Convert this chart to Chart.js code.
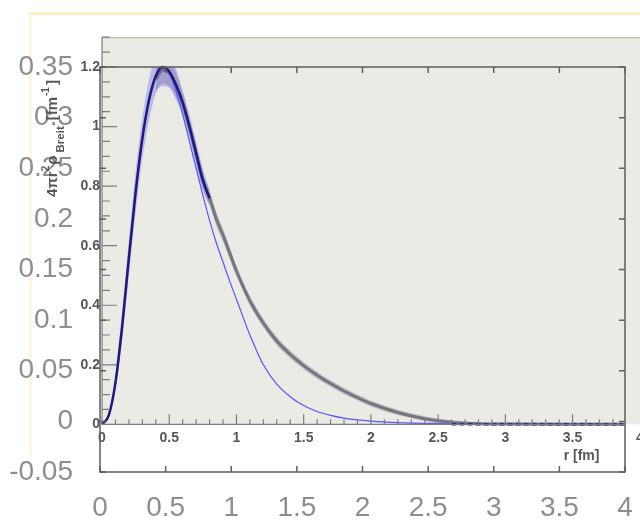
<!DOCTYPE html>
<html>
<head>
<meta charset="utf-8">
<script src="https://cdn.jsdelivr.net/npm/chart.js@4.4.1/dist/chart.umd.min.js"></script>
<style>
  html, body { margin: 0; padding: 0; background: #fff; }
</style>
</head>
<body>
<canvas id="c" width="640" height="522"></canvas>
<script>
// r grid (fm) shared by all the curves
const R = [0, 0.05, 0.1, 0.15, 0.2, 0.25, 0.3, 0.35, 0.4, 0.45,
           0.5, 0.55, 0.6, 0.65, 0.7, 0.75, 0.8, 0.85, 0.9, 0.95,
           1.0, 1.1, 1.2, 1.3, 1.4, 1.5, 1.6, 1.7, 1.8, 1.9,
           2.0, 2.2, 2.4, 2.6, 2.8, 3.0, 3.5, 3.88];

// thin blue curve
const blueThin = [0, 0.03, 0.14, 0.33, 0.56, 0.78, 0.96, 1.09, 1.17, 1.2,
                  1.18, 1.12, 1.04, 0.95, 0.86, 0.77, 0.685, 0.61, 0.545, 0.48,
                  0.42, 0.30, 0.20, 0.135, 0.093, 0.063, 0.043, 0.03, 0.021, 0.015,
                  0.011, 0.006, 0.003, 0.002, 0.001, 0.001, 0, 0];

// dark navy curve (with purple band near the peak)
const navy = [0, 0.03, 0.14, 0.33, 0.56, 0.78, 0.96, 1.09, 1.17, 1.2,
              1.185, 1.14, 1.08, 1.0, 0.91, 0.82, 0.76,
              null, null, null, null, null, null, null, null, null, null, null, null, null, null, null, null,
              0, 0, 0, 0, 0];
const purpleUpper = [null, null, 0.17, 0.38, 0.62, 0.85, 1.03, 1.16, 1.235, 1.255,
                     1.245, 1.195, 1.12, 1.04, 0.95, 0.86, 0.785,
                     ...Array(21).fill(null)];
const purpleLower = [null, null, 0.115, 0.285, 0.50, 0.71, 0.89, 1.02, 1.11, 1.135,
                     1.13, 1.09, 1.04, 0.96, 0.87, 0.785, 0.735,
                     ...Array(21).fill(null)];

// thick grey curve and its half band width
const grayLine = [null, null, null, null, null, null, null, null, 1.16, 1.19,
                  1.18, 1.14, 1.08, 1.0, 0.91, 0.82, 0.76, 0.69, 0.635, 0.575,
                  0.515, 0.415, 0.34, 0.28, 0.235, 0.197, 0.165, 0.137, 0.112, 0.09,
                  0.07, 0.04, 0.019, 0.007, 0.002, 0.001, 0, 0];
const grayErr = [null, null, null, null, null, null, null, null, 0.04, 0.045,
                 0.045, 0.04, 0.035, 0.03, 0.03, 0.028, 0.026, 0.024, 0.022, 0.02,
                 0.018, 0.016, 0.015, 0.014, 0.013, 0.012, 0.012, 0.011, 0.011, 0.01,
                 0.01, 0.009, 0.008, 0.007, 0.006, 0.006, 0.006, 0.006];

// outer axes (big grey labels)
const outerXTicks = [0, 0.5, 1, 1.5, 2, 2.5, 3, 3.5, 4];
const outerXLabels = ['0', '0.5', '1', '1.5', '2', '2.5', '3', '3.5', '4'];
const outerYTicks = [-0.05, 0, 0.05, 0.1, 0.15, 0.2, 0.25, 0.3, 0.35];
const outerYLabels = ['-0.05', '0', '0.05', '0.1', '0.15', '0.2', '0.25', '0.3', '0.35'];

// inner ROOT axes
const innerXTicks = [0, 0.5, 1, 1.5, 2, 2.5, 3, 3.5, 4];
const innerXLabels = ['0', '0.5', '1', '1.5', '2', '2.5', '3', '3.5', '4'];
const innerYTicks = [0, 0.2, 0.4, 0.6, 0.8, 1, 1.2];
const innerYLabels = ['0', '0.2', '0.4', '0.6', '0.8', '1', '1.2'];
const innerYTop = 1.3;
const xTitle = 'r [fm]';
// y title pieces: text, size, shift (+ = subscript), gap after
const yTitle = [
  ['4\u03c0r', 15, 0, 0], ['2', 10, -8, 1], ['\u03c1', 15, 0, 3],
  ['Breit', 11.5, 7, 6], ['[fm', 15, 0, 1], ['-1', 10, -8, 2], [']', 15, 0, 0]
];

const pts = ys => R.map((r, i) => ({ x: r, y: ys[i] == null ? null : ys[i] }));
const grayUpper = grayLine.map((v, i) => v == null ? null : v + grayErr[i]);
const grayLower = grayLine.map((v, i) => v == null ? null : Math.max(0, v - grayErr[i]));

const BIG_FONT = { family: '"Liberation Sans", Arial, sans-serif', size: 28 };
const BIG_COLOR = '#8e8e8e';
const ROOT_FONT = 'bold 14px "Liberation Sans", Arial, sans-serif';
const ROOT_COLOR = '#575757';

const common = {
  xAxisID: 'x2', yAxisID: 'y2', pointRadius: 0, clip: false,
  cubicInterpolationMode: 'monotone', spanGaps: false
};

const rootPad = {
  id: 'rootPad',
  beforeDraw(chart) {
    const { ctx, width, height } = chart;
    const { x2, y2 } = chart.scales;
    ctx.save();
    ctx.fillStyle = '#fff';
    ctx.fillRect(0, 0, width, height);

    // pale yellow edge of the pasted picture
    ctx.lineWidth = 3;
    ctx.strokeStyle = '#fbf1c4';
    ctx.beginPath(); ctx.moveTo(28, 13.5); ctx.lineTo(width, 13.5); ctx.stroke();
    ctx.strokeStyle = '#fbf7df';
    ctx.beginPath(); ctx.moveTo(30.5, 13); ctx.lineTo(30.5, 455); ctx.stroke();

    // grey ROOT frame
    const left = x2.getPixelForValue(0);
    const top = y2.getPixelForValue(innerYTop);
    const bottom = y2.getPixelForValue(0);
    ctx.fillStyle = '#ebebe6';
    ctx.fillRect(left, top, width - left, bottom - top);
    ctx.strokeStyle = '#b2b2ae';
    ctx.lineWidth = 1;
    ctx.beginPath(); ctx.moveTo(left, top + 0.5); ctx.lineTo(width, top + 0.5); ctx.stroke();
    ctx.restore();
  },
  afterDatasetsDraw(chart) {
    const { ctx, chartArea: ca } = chart;
    const { x, y, x2, y2 } = chart.scales;
    const left = x2.getPixelForValue(0);
    const top = y2.getPixelForValue(innerYTop);
    const bottom = y2.getPixelForValue(0);
    ctx.save();

    // inner axes
    ctx.strokeStyle = '#7c7c7c';
    ctx.lineWidth = 1.2;
    ctx.beginPath();
    ctx.moveTo(left, top); ctx.lineTo(left, bottom);
    ctx.lineTo(ca.right, bottom);
    for (let k = 0; k <= 26; k++) {
      const py = y2.getPixelForValue(k * 0.05);
      ctx.moveTo(left, py); ctx.lineTo(left + (k % 4 === 0 ? 15 : 8), py);
    }
    for (let k = 0; k <= 40; k++) {
      const px = x2.getPixelForValue(k * 0.1);
      if (px > ca.right) break;
      ctx.moveTo(px, bottom); ctx.lineTo(px, bottom - (k % 5 === 0 ? 10 : 5));
    }
    ctx.stroke();

    ctx.font = ROOT_FONT;
    ctx.fillStyle = ROOT_COLOR;
    ctx.textAlign = 'right';
    ctx.textBaseline = 'middle';
    innerYTicks.forEach((v, i) => ctx.fillText(innerYLabels[i], left - 2, y2.getPixelForValue(v)));
    ctx.textAlign = 'center';
    ctx.textBaseline = 'top';
    innerXTicks.forEach((v, i) => ctx.fillText(innerXLabels[i], x2.getPixelForValue(v), bottom + 7));
    ctx.textAlign = 'right';
    ctx.textBaseline = 'middle';
    ctx.fillText(xTitle, x2.getPixelForValue(3.7), bottom + 32);

    // rotated y title: 4πr²ρ_Breit [fm^-1]
    ctx.save();
    ctx.translate(57, 197);
    ctx.rotate(-Math.PI / 2);
    ctx.textAlign = 'left';
    ctx.textBaseline = 'alphabetic';
    let cx = 0;
    yTitle.forEach(([txt, size, dy, gap]) => {
      ctx.font = `bold ${size}px "Liberation Sans", Arial, sans-serif`;
      ctx.fillText(txt, cx, dy);
      cx += ctx.measureText(txt).width + gap;
    });
    ctx.restore();

    // outer frame with inward ticks
    ctx.strokeStyle = '#5e5e5e';
    ctx.lineWidth = 1.5;
    ctx.strokeRect(ca.left, ca.top, ca.width, ca.height);
    ctx.beginPath();
    outerXTicks.forEach(v => {
      const px = x.getPixelForValue(v);
      ctx.moveTo(px, ca.bottom); ctx.lineTo(px, ca.bottom - 6);
      ctx.moveTo(px, ca.top); ctx.lineTo(px, ca.top + 6);
    });
    outerYTicks.forEach(v => {
      const py = y.getPixelForValue(v);
      ctx.moveTo(ca.left, py); ctx.lineTo(ca.left + 6, py);
      ctx.moveTo(ca.right, py); ctx.lineTo(ca.right - 6, py);
    });
    ctx.stroke();
    ctx.restore();
  }
};

new Chart(document.getElementById('c'), {
  type: 'line',
  data: {
    datasets: [
      { ...common, label: 'navy', data: pts(navy), borderColor: '#1b1b7e', borderWidth: 2.5, fill: false,
        segment: { borderDash: c => (c.p0.parsed.y === 0 && c.p1.parsed.y === 0 ? [5, 3] : undefined) } },
      { ...common, label: 'blue', data: pts(blueThin), borderColor: '#5656ff', borderWidth: 1.2, fill: false },
      { ...common, label: 'grey', data: pts(grayLine), borderColor: 'rgba(92,92,110,0.75)', borderWidth: 3, fill: false },
      { ...common, label: 'purple band', data: pts(purpleUpper), borderWidth: 0, borderColor: 'transparent',
        backgroundColor: 'rgba(118,108,232,0.4)', fill: '+1' },
      { ...common, label: 'purple low', data: pts(purpleLower), borderWidth: 0, borderColor: 'transparent', fill: false },
      { ...common, label: 'grey band', data: pts(grayUpper), borderWidth: 0, borderColor: 'transparent',
        backgroundColor: 'rgba(108,108,126,0.35)', fill: '+1' },
      { ...common, label: 'grey low', data: pts(grayLower), borderWidth: 0, borderColor: 'transparent', fill: false }
    ]
  },
  options: {
    responsive: false,
    animation: false,
    layout: { padding: { left: 9, right: 15, top: 67, bottom: 0 } },
    plugins: { legend: { display: false }, tooltip: { enabled: false } },
    scales: {
      x: {
        type: 'linear', min: 0, max: 4,
        afterBuildTicks: s => { s.ticks = outerXTicks.map(v => ({ value: v })); },
        afterFit: s => { s.height = 50; s.paddingLeft = 0; s.paddingRight = 0; },
        grid: { display: false, drawTicks: false }, border: { display: false },
        ticks: { font: BIG_FONT, color: BIG_COLOR, padding: 19, maxRotation: 0, autoSkip: false,
                 callback: (v, i) => outerXLabels[i] }
      },
      y: {
        type: 'linear', min: -0.05, max: 0.35,
        afterBuildTicks: s => { s.ticks = outerYTicks.map(v => ({ value: v })); },
        afterFit: s => { s.width = 91; },
        grid: { display: false, drawTicks: false }, border: { display: false },
        ticks: { font: BIG_FONT, color: BIG_COLOR, padding: 27, autoSkip: false,
                 callback: (v, i) => outerYLabels[i] }
      },
      x2: { type: 'linear', display: false, min: -0.015, max: 3.89 },
      y2: { type: 'linear', display: false, min: -0.16, max: 1.2 }
    }
  },
  plugins: [rootPad]
});
</script>
</body>
</html>
